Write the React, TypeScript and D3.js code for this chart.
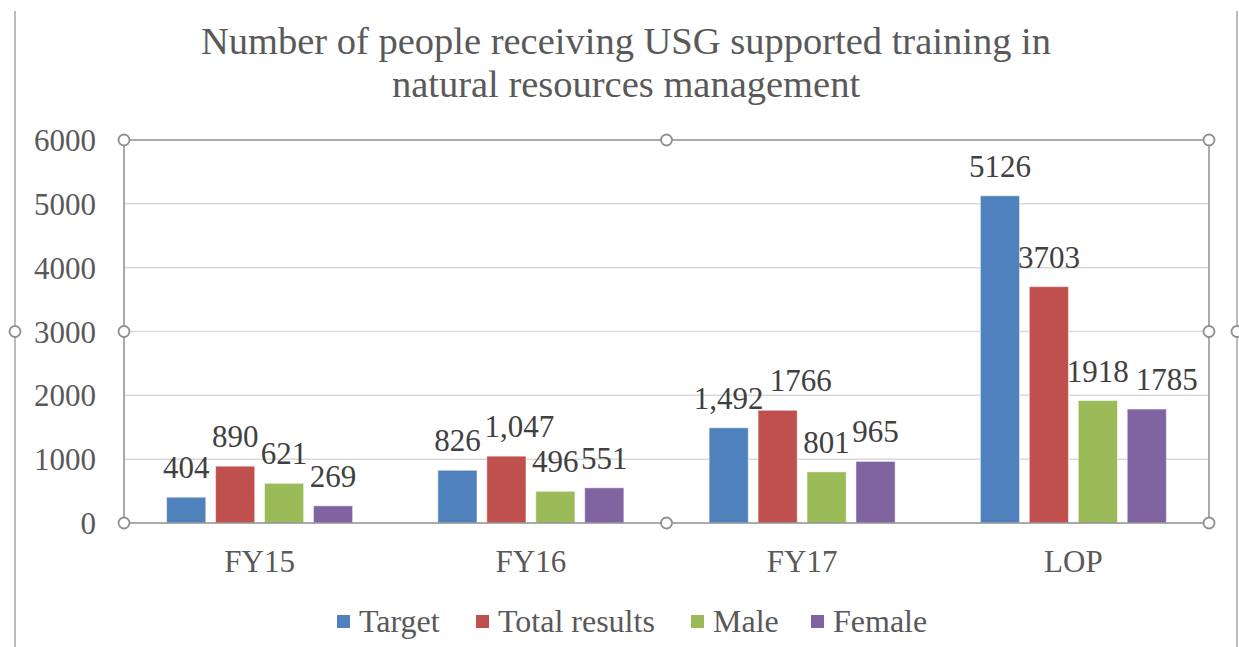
import React from "react";
import * as d3 from "d3";

const categories = ["FY15", "FY16", "FY17", "LOP"];
const seriesNames = ["Target", "Total results", "Male", "Female"];
const seriesColors = ["#4F81BD", "#C0504D", "#9BBB59", "#8064A2"];
const targetValues = [404, 826, 1492, 5126];
const totalValues = [890, 1047, 1766, 3703];
const maleValues = [621, 496, 801, 1918];
const femaleValues = [269, 551, 965, 1785];
const targetLabels = ["404", "826", "1,492", "5126"];
const totalLabels = ["890", "1,047", "1766", "3703"];
const maleLabels = ["621", "496", "801", "1918"];
const femaleLabels = ["269", "551", "965", "1785"];
const yTicks = [0, 1000, 2000, 3000, 4000, 5000, 6000];
const titleLines = [
  "Number of people receiving USG supported training in",
  "natural resources management",
];

// labels that were dragged sideways in the original
const labelNudge: Record<string, number> = { "1-1": 13, "1-2": 23, "3-3": 20 };

const W = 1239;
const H = 647;
const M = { left: 124, right: 1209, top: 140, bottom: 523 };
const FONT = "'Liberation Serif', 'Times New Roman', serif";
const TXT = "#595959";

export default function App() {
  const series = [targetValues, totalValues, maleValues, femaleValues];
  const labels = [targetLabels, totalLabels, maleLabels, femaleLabels];

  const x0 = d3.scaleBand().domain(categories).range([M.left, M.right]);
  const y = d3.scaleLinear().domain([0, 6000]).range([M.bottom, M.top]);
  const groupW = 186;
  const x1 = d3
    .scaleBand()
    .domain(seriesNames)
    .range([0, groupW])
    .paddingInner(0.2);

  const handles = [
    [M.left, M.top], [(M.left + M.right) / 2, M.top], [M.right, M.top],
    [M.left, (M.top + M.bottom) / 2], [M.right, (M.top + M.bottom) / 2],
    [M.left, M.bottom], [(M.left + M.right) / 2, M.bottom], [M.right, M.bottom],
    [15, (M.top + M.bottom) / 2], [1237, (M.top + M.bottom) / 2],
  ];

  const legendX = [337, 476, 691, 811];

  return (
    <svg width={W} height={H} style={{ position: "absolute", left: 0, top: 0, background: "#fff" }}
      fontFamily={FONT}>
      <rect width={W} height={H} fill="#fff" />
      {/* outer chart border */}
      <line x1={15} x2={15} y1={11} y2={H} stroke="#a6a6a6" strokeWidth={1.5} />
      <line x1={1237} x2={1237} y1={11} y2={H} stroke="#a6a6a6" strokeWidth={1.5} />

      {/* title */}
      {titleLines.map((t, i) => (
        <text key={t} x={626} y={54 + i * 43} textAnchor="middle" fontSize={38.5} fill={TXT}>
          {t}
        </text>
      ))}

      {/* gridlines */}
      {yTicks.filter((t) => t > 0 && t < 6000).map((t) => (
        <line key={t} x1={M.left} x2={M.right} y1={y(t)} y2={y(t)} stroke="#d9d9d9" strokeWidth={1.5} />
      ))}

      {/* y tick labels */}
      {yTicks.map((t) => (
        <text key={t} x={96} y={y(t) + 11} textAnchor="end" fontSize={31} fill={TXT}>
          {t}
        </text>
      ))}

      {/* bars */}
      {categories.map((c, ci) => {
        const gx = (x0(c) as number) + x0.bandwidth() / 2 - groupW / 2;
        return series.map((vals, si) => {
          const bx = gx + (x1(seriesNames[si]) as number);
          return (
            <rect key={c + si} x={bx} y={y(vals[ci])} width={x1.bandwidth()}
              height={y(0) - y(vals[ci])} fill={seriesColors[si]} stroke="#fff" strokeOpacity={0.5} strokeWidth={1} />
          );
        });
      })}

      {/* plot frame */}
      <rect x={M.left} y={M.top} width={M.right - M.left} height={M.bottom - M.top}
        fill="none" stroke="#8f8f8f" strokeWidth={1.5} />

      {/* data labels */}
      {categories.map((c, ci) => {
        const gx = (x0(c) as number) + x0.bandwidth() / 2 - groupW / 2;
        return series.map((vals, si) => {
          const cx = gx + (x1(seriesNames[si]) as number) + x1.bandwidth() / 2 + (labelNudge[`${si}-${ci}`] || 0);
          return (
            <text key={"l" + c + si} x={cx} y={y(vals[ci]) - 19} textAnchor="middle" fontSize={31} fill="#404040">
              {labels[si][ci]}
            </text>
          );
        });
      })}

      {/* category labels */}
      {categories.map((c) => (
        <text key={c} x={(x0(c) as number) + x0.bandwidth() / 2} y={572} textAnchor="middle" fontSize={31} fill={TXT}>
          {c}
        </text>
      ))}

      {/* handles */}
      {handles.map(([hx, hy], i) => (
        <circle key={i} cx={hx} cy={hy} r={5.5} fill="#fff" stroke="#8f8f8f" strokeWidth={1.8} />
      ))}

      {/* legend */}
      {seriesNames.map((s, i) => (
        <g key={s} transform={`translate(${legendX[i]},0)`}>
          <rect x={0} y={615} width={13} height={13} fill={seriesColors[i]} />
          <text x={22} y={632} fontSize={32} fill={TXT}>{s}</text>
        </g>
      ))}
    </svg>
  );
}
